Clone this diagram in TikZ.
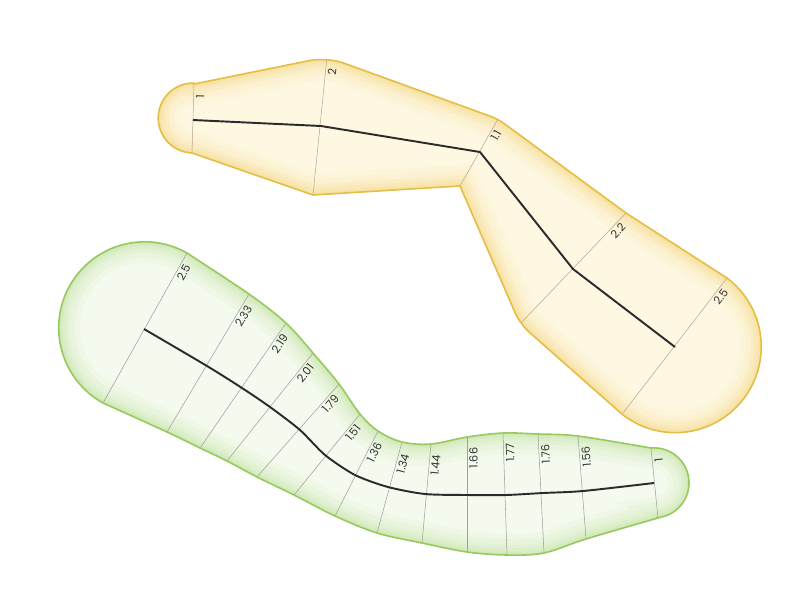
\documentclass[tikz,border=0pt]{standalone}
\usepackage{fontspec}
\setsansfont{Poppins}
\usetikzlibrary{calc}

\definecolor{yelFill}{HTML}{FEF8E3}
\definecolor{yelGlow}{HTML}{F6DC8E}
\definecolor{yelEdge}{HTML}{E5BE45}
\definecolor{grnFill}{HTML}{F4FAEE}
\definecolor{grnGlow}{HTML}{C6E6A8}
\definecolor{grnEdge}{HTML}{98C95E}
\definecolor{spineCol}{HTML}{2B2B2B}

\tikzset{
  ribline/.style={line width=0.3pt},
  ribnum/.style={pos=1, sloped, allow upside down, anchor=north east,
    inner xsep=6pt, inner ysep=1.2pt,
    font=\sffamily\fontsize{6.4}{6.4}\selectfont, text=black!80},
  spine/.style={draw=spineCol, line width=1.1pt, line join=round},
}

% outlines of the two strokes
\def\yellowpath{(194,84) [rounded corners=10pt] -- (327,57)
  [rounded corners=4pt] -- (498,119) [sharp corners] -- (626,213) -- (727,278)
  arc[start angle=-53, end angle=128, radius=86] [rounded corners=7pt] -- (520,324)
  [sharp corners] -- (460,186) -- (313,195) -- (192,153)
  arc[start angle=92, end angle=271, radius=35] -- cycle}
\def\greenpath{plot[smooth, tension=0.55] coordinates {(187,253) (249,294)
  (286,323) (313,353) (339,384) (360,414) (378,431) (402,442) (431,444)
  (467,437) (503,433) (538,434) (578,436) (651,448)}
  arc[start angle=-95, end angle=84, radius=35]
  -- plot[smooth, tension=0.55] coordinates {(658,518) (586,539) (544,553)
  (507,555) (467,552) (422,543) (377,533) (335,516) (294,495) (257,477)
  (227,461) (200,448) (167,432) (103,403)}
  arc[start angle=119, end angle=299.5, radius=86] -- cycle}

\begin{document}
\begin{tikzpicture}[x=0.02cm, y=-0.02cm]
  \useasboundingbox (0,0) rectangle (798,600);

  % yellow stroke
  \fill[yelFill] \yellowpath;
  \begin{scope}
    \clip \yellowpath;
    \foreach \w/\o in {24/0.1, 18/0.13, 12/0.17, 8/0.21, 4.5/0.27, 2/0.4}
      \draw[yelGlow, line width=\w pt, opacity=\o] \yellowpath;
    \foreach \bx/\by/\tx/\ty/\lab [count=\i] in {192/153/194/84/1,
        313/195/327/57/2, 460/186/498/119/{1.1}, 520/324/626/213/{2.2},
        623/413/727/278/{2.5}}
      \draw[ribline, draw=brown!45!gray!70] (\bx,\by) -- (\tx,\ty)
        node[ribnum] (ylab\i) {\lab};
  \end{scope}
  \draw[yelEdge, line width=0.9pt] \yellowpath;
  \draw[spine] (193,120) -- (321,126) -- (480,152) -- (573,269) -- (675,347);

  % green stroke
  \fill[grnFill] \greenpath;
  \begin{scope}
    \clip \greenpath;
    \foreach \w/\o in {24/0.1, 18/0.13, 12/0.17, 8/0.21, 4.5/0.27, 2/0.4}
      \draw[grnGlow, line width=\w pt, opacity=\o] \greenpath;
    \foreach \bx/\by/\tx/\ty/\lab [count=\i] in {103/403/187/253/{2.5},
        167/432/249/294/{2.33}, 200/448/286/323/{2.19}, 227/461/313/353/{2.01},
        257/477/339/384/{1.79}, 294/495/360/414/{1.51}, 335/516/378/431/{1.36},
        377/533/402/442/{1.34}, 422/543/431/444/{1.44}, 467/552/467/437/{1.66},
        507/555/503/433/{1.77}, 544/553/538/434/{1.76}, 586/539/578/436/{1.56},
        658/518/651/448/1}
      \draw[ribline, draw=gray!75] (\bx,\by) -- (\tx,\ty)
        node[ribnum] (glab\i) {\lab};
  \end{scope}
  \draw[grnEdge, line width=0.9pt] \greenpath;
  \draw[spine] plot[smooth, tension=0.45] coordinates {(144,329) (207,366)
    (242,388) (270,407) (300,430) (325,455) (355,475) (388,487) (425,494)
    (467,495) (506,495) (543,493) (583,491) (654,483)};
\end{tikzpicture}
\end{document}
